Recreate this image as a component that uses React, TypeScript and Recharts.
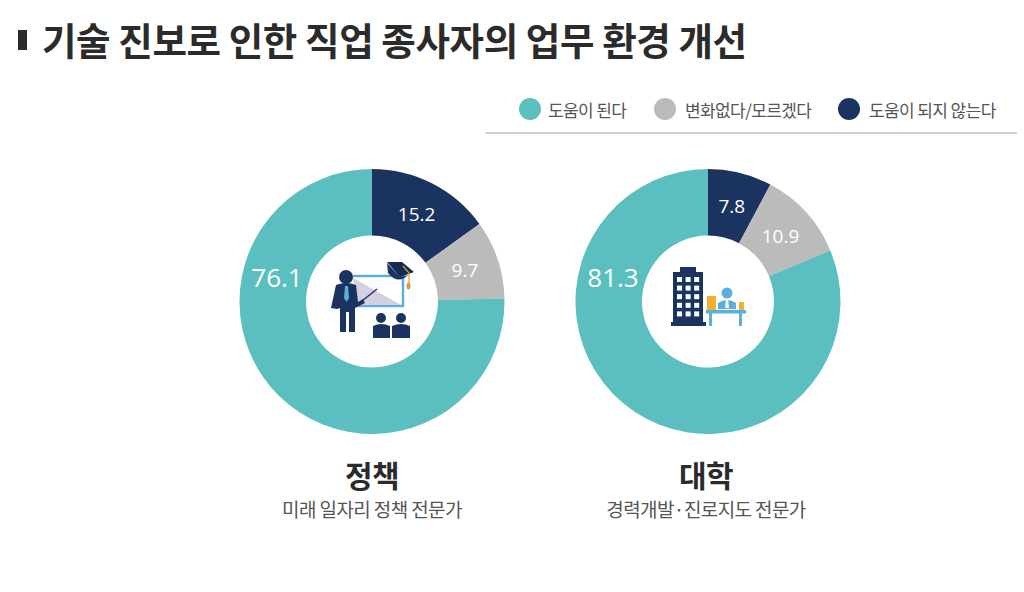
import React from "react";
import { PieChart, Pie, Cell, Legend } from "recharts";

const categories = ["도움이 되지 않는다", "변화없다/모르겠다", "도움이 된다"];
const legendOrder = ["도움이 된다", "변화없다/모르겠다", "도움이 되지 않는다"];
const policyValues = [15.2, 9.7, 76.1];
const collegeValues = [7.8, 10.9, 81.3];
const colors: Record<string, string> = {
  "도움이 된다": "#5bbfc0",
  "변화없다/모르겠다": "#bbbbbb",
  "도움이 되지 않는다": "#1a3360",
};
const policyData = categories.map((name, i) => ({ name, value: policyValues[i] }));
const collegeData = categories.map((name, i) => ({ name, value: collegeValues[i] }));

const KR = "'Noto Sans CJK KR', sans-serif";
const RAD = Math.PI / 180;

function sliceLabel(props: any) {
  const { cx, cy, midAngle, index, value } = props;
  const big = index === 2;
  const angle = big ? 165.8 : midAngle;
  const r = 98;
  const x = cx + r * Math.cos(angle * RAD);
  const y = cy - r * Math.sin(angle * RAD);
  return (
    <text
      x={x}
      y={y}
      textAnchor="middle"
      dominantBaseline="central"
      fill="#ffffff"
      fontFamily="'Open Sans', sans-serif"
      fontSize={big ? 26 : 19}
    >
      {value.toFixed(1)}
    </text>
  );
}

function LegendContent() {
  return (
    <div style={{ position: "relative", width: 532, height: 48, borderBottom: "2px solid #d0d0d0" }}>
      {legendOrder.map((name, i) => {
        const left = [34, 169, 353][i];
        return (
          <div key={name} style={{ position: "absolute", left, top: 13, display: "flex", alignItems: "center", height: 24 }}>
            <span style={{ width: 22, height: 22, borderRadius: 11, background: colors[name], display: "inline-block", marginRight: i === 0 ? 7 : 9 }} />
            <span style={{ fontFamily: KR, fontSize: 17, color: "#555", letterSpacing: -0.6, whiteSpace: "nowrap" }}>{name}</span>
          </div>
        );
      })}
    </div>
  );
}

function TeacherIcon() {
  const navy = "#1a3360";
  return (
    <g>
      <path d="M353 276 H403 V306 H356" fill="none" stroke="#5aaee0" strokeWidth={2.5} />
      <path d="M353 278 L401 305 H358 Z" fill="#d4d0e0" />
      <circle cx={346} cy={277} r={7} fill={navy} />
      <path d="M336 285 Q346 281 356 285 L358 302 L363 299 L365 303 L355 308 V332 H349 V312 H346 V332 H340 V308 L337 309 L331 308 Z" fill={navy} />
      <path d="M362 301 L377 289" stroke={navy} strokeWidth={1.5} />
      <path d="M345 286 H348 L349 298 L346.5 302 L344 298 Z" fill="#5aaee0" />
      <path d="M387 262 H402 L414 272 L400 277 Z" fill="#152a50" />
      <path d="M387 263 L388 273 Q398 285 408 275 L400 277 Z" fill={navy} />
      <path d="M403 266 L409 273 V283" stroke="#e09a30" strokeWidth={1.2} fill="none" />
      <ellipse cx={408.5} cy={286} rx={2} ry={3.5} fill="#e09a30" />
      <circle cx={381} cy={318} r={5} fill={navy} />
      <path d="M373 338 V326 Q381 322 390 326 V338 Z" fill={navy} />
      <circle cx={401} cy={318} r={5} fill={navy} />
      <path d="M392 338 V326 Q401 322 410 326 V338 Z" fill={navy} />
    </g>
  );
}

function OfficeIcon() {
  const navy = "#1a3360";
  const windows: React.ReactNode[] = [];
  [0, 1, 2].forEach((c) =>
    [0, 1, 2, 3, 4].forEach((r) =>
      windows.push(<rect key={`${c}-${r}`} x={677 + c * 8.6} y={277 + r * 8.6} width={5} height={5} fill="#fff" />)
    )
  );
  return (
    <g>
      <path d="M680 267 H696 V272 H703 V322 H706 V326 H671 V322 H673 V272 H680 Z" fill={navy} />
      {windows}
      <rect x={707} y={296} width={9} height={14} fill="#f0b030" />
      <rect x={739} y={302} width={5} height={8} fill="#f0b030" />
      <circle cx={727} cy={293} r={5.5} fill="#5aaee0" />
      <path d="M718 309 V303 Q727 297 736 303 V309 Z" fill="#5aaee0" />
      <path d="M726 299 H728 L729 308 H725 Z" fill="#fff" />
      <rect x={706} y={310} width={40} height={3.5} fill="#5aaee0" />
      <rect x={709} y={313} width={3} height={13} fill="#5aaee0" />
      <rect x={739} y={313} width={3} height={13} fill="#5aaee0" />
    </g>
  );
}

function Caption({ x, title, sub }: { x: number; title: string; sub: string }) {
  return (
    <div style={{ position: "absolute", left: x - 150, width: 300, top: 454, textAlign: "center", fontFamily: KR }}>
      <div style={{ fontSize: 30, fontWeight: 700, color: "#2b2b2b", lineHeight: "40px", letterSpacing: -0.5 }}>{title}</div>
      <div style={{ fontSize: 19, color: "#555", lineHeight: "26px", letterSpacing: -0.6, marginTop: 2 }}>{sub}</div>
    </div>
  );
}

export default function App() {
  const pieProps = {
    dataKey: "value",
    nameKey: "name",
    cy: 251.5,
    innerRadius: 66,
    outerRadius: 132.5,
    startAngle: 90,
    endAngle: -270,
    stroke: "none",
    isAnimationActive: false,
    label: sliceLabel,
    labelLine: false,
  };
  return (
    <div style={{ position: "absolute", left: 0, top: 0, width: 1024, height: 592, background: "#fff", overflow: "hidden" }}>
      <div style={{ position: "absolute", left: 18, top: 30, width: 9, height: 20, background: "#2b2b2b" }} />
      <div style={{ position: "absolute", left: 42, top: 14, fontFamily: KR, fontWeight: 700, fontSize: 37.5, lineHeight: "50px", color: "#2b2b2b", letterSpacing: -0.4, whiteSpace: "nowrap" }}>
        기술 진보로 인한 직업 종사자의 업무 환경 개선
      </div>
      <PieChart width={1024} height={592} margin={{ top: 0, right: 0, bottom: 0, left: 0 }} style={{ position: "absolute", left: 0, top: 0 }}>
        <Legend content={<LegendContent />} layout="horizontal" verticalAlign="top" align="left" wrapperStyle={{ left: 485, top: 84, width: 532 }} />
        <Pie {...pieProps} data={policyData} cx={372}>
          {policyData.map((d) => <Cell key={d.name} fill={colors[d.name]} />)}
        </Pie>
        <Pie {...pieProps} data={collegeData} cx={708}>
          {collegeData.map((d) => <Cell key={d.name} fill={colors[d.name]} />)}
        </Pie>
      </PieChart>
      <svg width={1024} height={592} style={{ position: "absolute", left: 0, top: 0, pointerEvents: "none" }}>
        <TeacherIcon />
        <OfficeIcon />
      </svg>
      <Caption x={372} title="정책" sub="미래 일자리 정책 전문가" />
      <Caption x={706} title="대학" sub="경력개발·진로지도 전문가" />
    </div>
  );
}
